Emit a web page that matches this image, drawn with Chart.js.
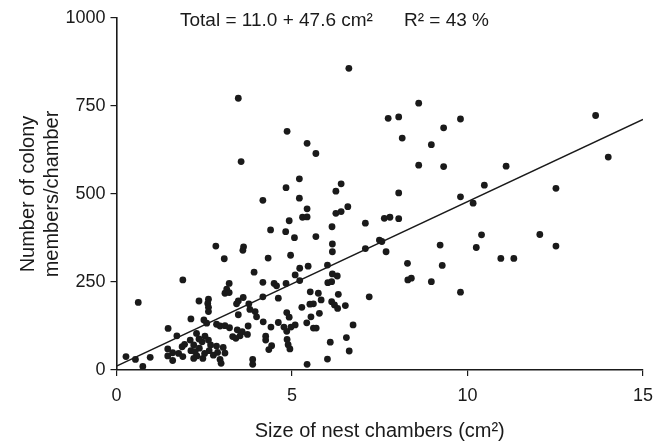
<!DOCTYPE html>
<html>
<head>
<meta charset="utf-8">
<script src="https://cdn.jsdelivr.net/npm/chart.js@4.4.1/dist/chart.umd.min.js"></script>
<style>
  html, body { margin: 0; padding: 0; background: #fff; }
  #wrap { width: 669px; height: 445px; }
</style>
</head>
<body>
<div id="wrap"><canvas id="nest" width="669" height="445"></canvas></div>
<script>
// chamber size (cm2) and colony members per chamber
var chamberSize = [
  6.62, 8.61, 7.74, 8.04, 9.80, 9.32, 8.14, 8.97, 13.65, 14.01, 8.61, 9.32, 11.10, 6.40, 10.48, 12.52,
  8.04, 6.40, 6.59, 9.80, 10.16, 7.09, 7.63, 7.79, 8.04, 7.09, 7.49, 7.56, 7.68, 10.40, 10.25, 12.06,
  12.52, 9.22, 8.29, 9.28, 10.95, 11.32, 8.30, 8.40, 8.97, 9.80, 7.20, 6.52, 6.74, 6.55, 6.63,
  6.15, 5.22, 5.46, 5.09, 5.22, 6.01, 6.15, 6.29, 6.02, 6.13, 5.52, 5.75, 6.32, 5.28, 5.51, 5.61,
  5.83, 6.13, 6.21, 6.30, 5.78, 5.54, 5.42, 5.09, 5.61, 5.69, 6.09, 6.01, 5.43,
  3.47, 3.55, 4.86, 5.43, 5.68, 5.21, 4.83, 5.21, 4.17, 6.25, 6.25, 5.43, 5.30, 5.43,
  4.39, 4.92, 4.82, 5.07, 5.68, 6.14, 6.15,
  3.62, 3.60, 4.32, 4.96, 3.92, 4.17, 4.49, 4.56, 4.83, 4.17, 4.61, 4.85, 4.92, 3.88, 3.88,
  3.21, 3.14, 3.09, 3.21, 3.61, 3.47, 3.42, 3.77, 3.80, 3.95, 3.99, 3.47,
  3.31, 3.44, 3.58, 3.73, 3.40, 3.52, 2.85, 2.95, 3.09, 3.22, 3.75,
  4.18, 4.61, 4.40, 4.77, 4.85, 4.97, 4.86, 4.89, 4.94, 4.25, 4.25, 4.42, 4.34,
  2.52, 2.62, 2.68, 2.64, 2.76, 2.88, 2.95, 3.04, 3.09, 2.85, 2.98,
  2.10, 2.20, 2.12, 2.29, 2.20, 2.36, 2.44, 2.46, 2.51, 2.28, 2.35, 2.24,
  0.27, 0.54, 0.75, 0.96, 1.47, 1.72, 1.87, 1.94, 1.77, 1.89, 1.46, 1.60, 1.46, 1.60,
  2.83, 3.07, 1.89, 0.62, 2.35, 2.62, 2.60, 2.62, 2.62, 2.12, 2.49, 2.57
];
var members = [
  857, 758, 715, 719, 713, 688, 659, 640, 723, 605, 582, 578, 579, 529, 525, 516,
  503, 450, 464, 492, 474, 417, 431, 434, 430, 345, 369, 365, 336, 384, 348, 385,
  352, 355, 303, 297, 317, 317, 256, 261, 251, 221, 208, 183, 128, 92, 54,
  336, 289, 295, 270, 254, 298, 273, 267, 248, 251, 222, 218, 215, 178, 187, 188,
  199, 194, 185, 175, 161, 151, 134, 128, 119, 119, 79, 31, 16,
  772, 592, 678, 644, 615, 543, 518, 488, 482, 508, 445, 458, 434, 435,
  398, 424, 393, 376, 379, 407, 358,
  350, 340, 318, 326, 278, 249, 246, 239, 246, 208, 204, 163, 150, 30, 16,
  246, 230, 218, 220, 206, 196, 188, 188, 172, 166, 151, 157,
  95, 114, 109, 101, 90, 97, 130, 125, 126, 120, 125,
  137, 135, 122, 122, 110, 122, 87, 72, 60, 96, 85, 69, 58,
  96, 85, 71, 55, 42, 50, 30, 64, 48, 68, 19,
  85, 71, 55, 40, 33, 62, 80, 33, 47, 104, 88, 52,
  38, 30, 10, 36, 118, 97, 66, 73, 47, 38, 60, 49, 40, 27,
  352, 316, 256, 192, 196, 201, 189, 178, 166, 145, 142, 133
];

// fitted line end points
var fitX = [0, 15];
var fitY = [11, 712];

var xTicks = [0, 5, 10, 15];
var yTicks = [0, 250, 500, 750, 1000];

var points = chamberSize.map(function (x, i) { return { x: x, y: members[i] }; });
var fitLine = fitX.map(function (x, i) { return { x: x, y: fitY[i] }; });

var font = "'Liberation Sans', Arial, sans-serif";
var ink = '#1a1a1a';

var headline = {
  id: 'headline',
  afterDraw: function (chart) {
    var ctx = chart.ctx;
    ctx.save();
    ctx.fillStyle = ink;
    ctx.font = '19px ' + font;
    ctx.textBaseline = 'middle';
    ctx.textAlign = 'left';
    ctx.fillText('Total = 11.0 + 47.6 cm²', 180, 21);
    ctx.fillText('R² = 43 %', 404, 21);
    ctx.restore();
  }
};

new Chart(document.getElementById('nest'), {
  type: 'scatter',
  data: {
    datasets: [{
      label: 'chambers',
      data: points,
      pointRadius: 3.4,
      pointHoverRadius: 3.4,
      backgroundColor: ink,
      borderWidth: 0
    },
    {
      label: 'fit',
      data: fitLine,
      showLine: true,
      pointRadius: 0,
      borderColor: ink,
      borderWidth: 1.6,
      fill: false
    }]
  },
  options: {
    responsive: false,
    animation: false,
    devicePixelRatio: 1,
    layout: { padding: { left: 10, right: 26, top: 18, bottom: 0 } },
    plugins: {
      legend: { display: false },
      tooltip: { enabled: false }
    },
    scales: {
      x: {
        type: 'linear',
        min: 0,
        max: 15,
        afterFit: function (s) { s.height = 75; },
        afterBuildTicks: function (s) { s.ticks = xTicks.map(function (v) { return { value: v }; }); },
        grid: { drawOnChartArea: false, drawTicks: true, tickLength: 6, color: ink, lineWidth: 1.2 },
        border: { display: true, color: ink, width: 1.6 },
        ticks: {
          color: ink,
          font: { family: font, size: 18 },
          padding: 9,
          callback: function (v) { return String(v); }
        },
        title: {
          display: true,
          text: 'Size of nest chambers (cm²)',
          color: ink,
          font: { family: font, size: 20 },
          padding: { top: 0, bottom: 2 }
        }
      },
      y: {
        type: 'linear',
        min: 0,
        max: 1000,
        afterFit: function (s) { s.width = 106.5; },
        afterBuildTicks: function (s) { s.ticks = yTicks.map(function (v) { return { value: v }; }); },
        grid: { drawOnChartArea: false, drawTicks: true, tickLength: 6, color: ink, lineWidth: 1.2 },
        border: { display: true, color: ink, width: 1.6 },
        ticks: {
          color: ink,
          font: { family: font, size: 18 },
          padding: 5,
          callback: function (v) { return String(v); }
        },
        title: {
          display: true,
          text: ['Number of colony', 'members/chamber'],
          color: ink,
          font: { family: font, size: 20 },
          padding: { top: 6, bottom: 0 }
        }
      }
    }
  },
  plugins: [headline]
});
</script>
</body>
</html>
